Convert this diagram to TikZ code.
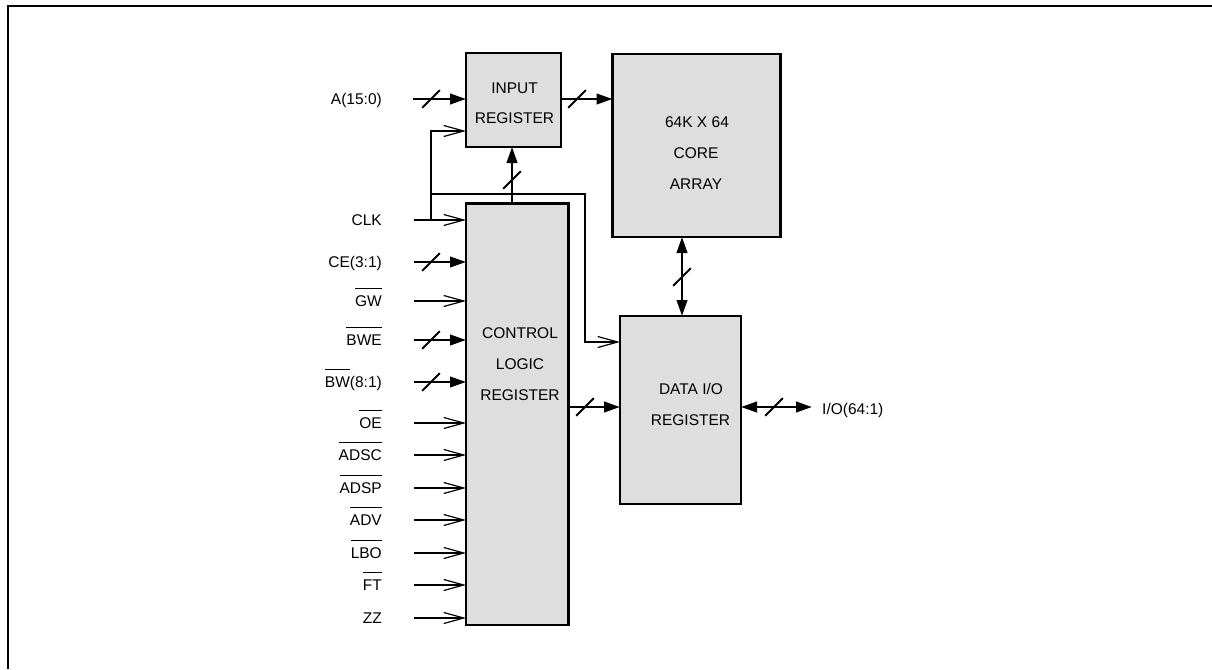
\documentclass[tikz,border=0pt]{standalone}
\usepackage{fontspec}
\setmainfont{Liberation Sans}
\usetikzlibrary{arrows.meta}
\definecolor{boxfill}{RGB}{222,222,222}
\newcommand\ovl[1]{\leavevmode\vbox{\hrule height 1pt\kern 6.8pt\hbox{#1}}}
\begin{document}
\begin{tikzpicture}[x=1pt,y=-1pt,
  blk/.style={draw, line width=2.6pt, fill=boxfill, inner sep=0pt, outer sep=0pt},
  txt/.style={font=\fontsize{15.5}{18}\selectfont, inner sep=0pt, anchor=base},
  lab/.style={txt, anchor=base east},
  bus/.style={line width=2.6pt, -{Triangle[length=16pt,width=10.5pt]}},
  busboth/.style={line width=2.6pt, {Triangle[length=16pt,width=10.5pt]}-{Triangle[length=16pt,width=10.5pt]}},
  sig/.style={line width=1.2pt, -{Straight Barb[length=20pt,width=11pt]}},
  busmark/.pic={\draw[line width=2pt] (-8.8,8.8) -- (8.8,-8.8);}
]
\useasboundingbox (0,0) rectangle (1212,669);
% frame
\draw[line width=2pt] (7.8,669) -- (7.8,6) -- (1212,6);

% blocks
\node[blk, minimum width=95pt, minimum height=94pt] (inreg) at (513.5,100) {};
\node[blk, minimum width=168pt, minimum height=183pt] (core) at (696.5,145.5) {};
\node[blk, minimum width=102.5pt, minimum height=421.5pt] (ctrl) at (517.25,414.25) {};
\node[blk, minimum width=121pt, minimum height=188pt] (dataio) at (680.5,410) {};

% block texts
\node[txt] (t1) at (514.5,93.2) {INPUT};
\node[txt] (t2) at (514.5,123.8) {REGISTER};
\node[txt] (t3) at (697,127.2) {64K X 64};
\node[txt] (t4) at (696,158.2) {CORE};
\node[txt] (t5) at (696,189.5) {ARRAY};
\node[txt] (t6) at (520,338.2) {CONTROL};
\node[txt] (t7) at (520,369.5) {LOGIC};
\node[txt] (t8) at (520,400.5) {REGISTER};
\node[txt] (t9) at (691,394.8) {DATA I/O};
\node[txt] (t10) at (690.5,425.5) {REGISTER};

% address input
\node[lab] (la) at (382,104.8) {A(15:0)};
\coordinate (aS) at (413,99);
\draw[bus] (aS) -- (aS -| inreg.west);
\pic at (431,99) {busmark};

% input register -> core
\coordinate (y99) at (0,99);
\draw[bus] (inreg.east |- y99) -- (core.west |- y99);
\pic at (577,99) {busmark};

% control -> input register
\coordinate (x512) at (512,0);
\draw[bus] (ctrl.north -| x512) -- (inreg.south -| x512);
\pic at (512,180) {busmark};

% core <-> data io
\coordinate (x682) at (682,0);
\draw[busboth] (core.south -| x682) -- (dataio.north -| x682);
\pic at (682,277) {busmark};

% control -> data io
\coordinate (y407) at (0,407);
\draw[bus] (ctrl.east |- y407) -- (dataio.west |- y407);
\pic at (585,407) {busmark};

% data io <-> outside
\coordinate (ioE) at (812,407);
\draw[busboth] (dataio.east |- y407) -- (ioE);
\pic at (774,407) {busmark};
\node[txt, anchor=base west] (lio) at (822,414) {I/O(64:1)};

% clock
\node[lab] (lclk) at (382,225.5) {CLK};
\coordinate (clkS) at (414,220);
\draw[sig] (clkS) -- (clkS -| ctrl.west);
\coordinate (jA) at (431,220);
\coordinate (y131) at (0,131);
\draw[sig] (jA) |- (inreg.west |- y131);
\coordinate (jB) at (431,194);
\coordinate (xB) at (585,342);
\draw[sig] (jB) -| (xB) -- (xB -| dataio.west);

% bus inputs to control
\foreach \y/\t [count=\i] in {262/CE(3:1), 340/\ovl{BWE}, 382/{\ovl{BW}(8:1)}} {
  \node[lab] (bl\i) at (382,\y+5.5) {\t};
  \coordinate (bs\i) at (414,\y);
  \draw[bus] (bs\i) -- (bs\i -| ctrl.west);
  \pic at (431,\y) {busmark};
}
% single inputs to control
\foreach \y/\t [count=\i] in {301/\ovl{GW}, 423/\ovl{OE}, 455/\ovl{ADSC}, 488/\ovl{ADSP}, 520/\ovl{ADV}, 553/\ovl{LBO}, 585/\ovl{FT}, 618/ZZ} {
  \node[lab] (sl\i) at (382,\y+5.5) {\t};
  \coordinate (ss\i) at (414,\y);
  \draw[sig] (ss\i) -- (ss\i -| ctrl.west);
}
\end{tikzpicture}
\end{document}
